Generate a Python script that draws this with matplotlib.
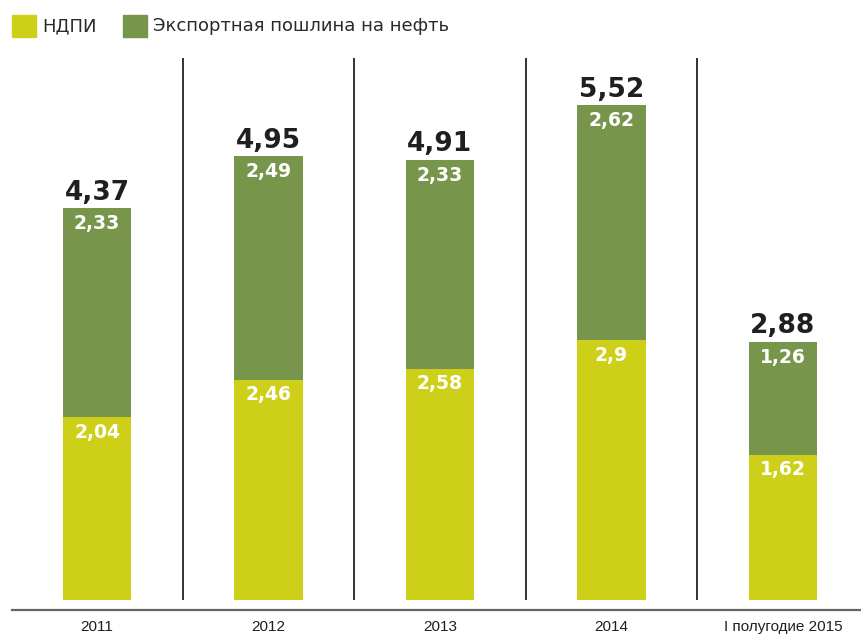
import matplotlib
matplotlib.use("Agg")
import matplotlib.pyplot as plt
import numpy as np

# Data
categories = ["2011", "2012", "2013", "2014", "I полугодие 2015"]
ndpi = [2.04, 2.46, 2.58, 2.90, 1.62]
export_duty = [2.33, 2.49, 2.33, 2.62, 1.26]
totals = [4.37, 4.95, 4.91, 5.52, 2.88]

YELLOW = "#cdcf19"
GREEN = "#78964b"
TEXT = "#1f1f1f"


def fmt_label(v):
    # two decimals with comma, trailing zero dropped (2,9)
    s = f"{v:.2f}"
    if s.endswith("0"):
        s = s[:-1]
    return s.replace(".", ",")


plt.rcParams["font.family"] = ["DejaVu Sans"]

fig = plt.figure(figsize=(8.62, 6.34), dpi=100)
fig.patch.set_facecolor("white")
ax = fig.add_axes([12 / 862, (634 - 610) / 634, 850 / 862, (610 - 50) / 634])

x = np.arange(len(categories))
w = 0.397

ax.bar(x, ndpi, width=w, color=YELLOW, zorder=2)
ax.bar(x, export_duty, width=w, bottom=ndpi, color=GREEN, zorder=2)

# vertical separators between columns
ax.vlines(x[:-1] + 0.5, 0, 6.05, color="#111111", linewidth=1.2, zorder=1)

for i in range(len(categories)):
    ax.annotate(fmt_label(totals[i]), (x[i], totals[i]), xytext=(0, 2),
                textcoords="offset points", ha="center", va="bottom",
                fontsize=19, fontweight="heavy", color=TEXT)
    ax.annotate(fmt_label(export_duty[i]), (x[i], totals[i]), xytext=(0, -4),
                textcoords="offset points", ha="center", va="top",
                fontsize=13.5, fontweight="bold", color="white")
    ax.annotate(fmt_label(ndpi[i]), (x[i], ndpi[i]), xytext=(0, -4),
                textcoords="offset points", ha="center", va="top",
                fontsize=13.5, fontweight="bold", color="white")

ax.set_xlim((12 - 97) / 171.5, (862 - 97) / 171.5)
ax.set_ylim(-10 / 89.6, (600 - 50) / 89.6)
ax.set_xticks(x)
ax.set_xticklabels(categories, fontsize=11, color=TEXT, family=["Liberation Sans"])
ax.tick_params(axis="x", length=0, pad=7)
ax.set_yticks([])
for side in ["top", "right", "left"]:
    ax.spines[side].set_visible(False)
ax.spines["bottom"].set_color("#666666")
ax.spines["bottom"].set_linewidth(1.6)


# legend drawn as squares + text in figure coords
def legend_item(x0, text, color):
    fig.patches.append(plt.Rectangle((x0 / 862, 1 - 37 / 634), 24 / 862, 22 / 634,
                                     transform=fig.transFigure, color=color))
    fig.text((x0 + 30) / 862, 1 - 26 / 634, text, fontsize=13, color="#2a2a2a",
             va="center", ha="left")


legend_item(12, "НДПИ", YELLOW)
legend_item(123, "Экспортная пошлина на нефть", GREEN)

fig.savefig("out.png", dpi=100, facecolor="white")
